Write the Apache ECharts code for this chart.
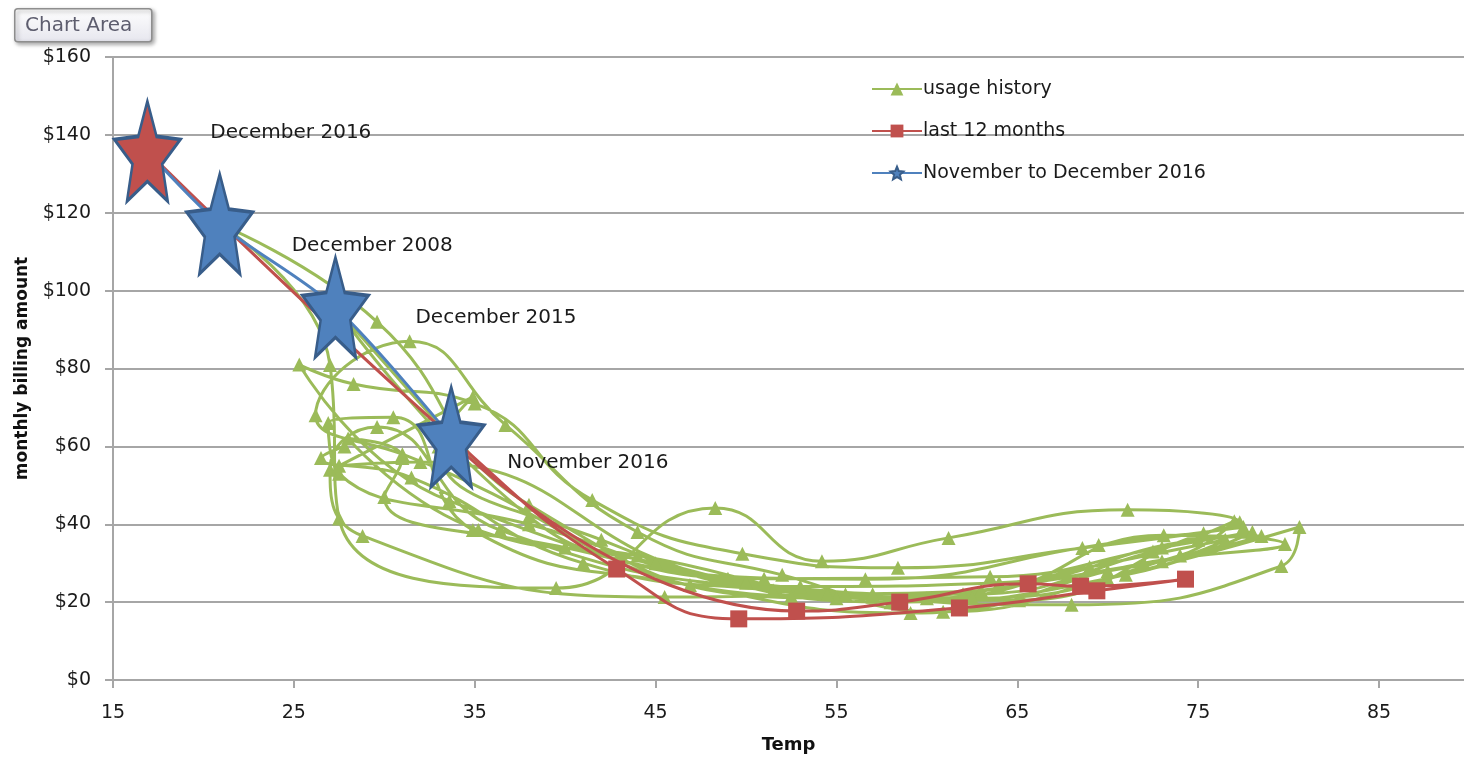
<!DOCTYPE html>
<html>
<head>
<meta charset="utf-8">
<title>monthly billing amount vs Temp</title>
<script src="https://cdn.jsdelivr.net/npm/echarts@6/dist/echarts.min.js"></script>
<style>
  html, body { margin: 0; padding: 0; background: #fff; }
  #chart { width: 1464px; height: 762px; }
</style>
</head>
<body>
<div id="chart"></div>
<script>
// usage history, Dec 2007 .. Jan 2016 (temp, billing)
const usageTemp = [
  27.8, 26.5, 31.5, 41, 51.5, 60, 69, 76.5, 73, 55, 38, 29.6,
  20.9, 27, 27.5, 39.5, 48.3, 54.2, 61.2, 71.1, 77.3, 69.5, 56.6, 33.6,
  25.3, 28.3, 35, 41.5, 49.8, 58.4, 68.6, 77.5, 75.3, 65.1, 52.5, 31,
  26.2, 31.4, 36.7, 44, 52, 60.9, 70, 80.6, 79.6, 68, 55.5, 36.4,
  29.6, 27, 28.8, 45.5, 54.5, 63, 73.1, 79.8, 72, 59.1, 46.9, 34.9,
  30.5, 26.9, 27.5, 38, 50, 62, 72.5, 77, 74, 62.5, 49, 32,
  27.5, 34.9, 33, 42, 53, 64, 75, 78.5, 70, 57, 44, 35.2,
  28, 31, 30, 40, 51, 63.5, 73, 78, 71, 58, 45, 38,
  27.3, 33.7
]
const usageCost = [
  60, 57, 52, 30, 23, 21, 29, 36, 30.5, 21, 45, 92,
  117, 80.9, 41.5, 23.6, 44.2, 30.5, 36.5, 43.7, 40.5, 34.7, 25.9, 46,
  81, 76, 71, 46.2, 32.4, 28.8, 33.9, 39.3, 37.7, 20.5, 21.5, 58,
  68, 87, 65.5, 38, 27, 17.5, 26, 39.3, 29.3, 19.3, 22, 38.5,
  65, 54, 37, 21.3, 22, 23, 37.2, 34.9, 30, 17.2, 24.4, 38.5,
  67.5, 66, 53, 40, 25, 22, 33, 40.8, 32, 21, 26, 56,
  55, 72.7, 60, 36, 24, 25, 36, 37, 28, 22, 32, 38.5,
  62, 57, 47, 34, 26, 26.5, 34, 38, 27, 20, 30, 42,
  95.7, 62
]

// last 12 months, Jan .. Dec 2016
const lastTemp = [33.8, 52.8, 58.5, 65.6, 68.5, 74.3, 69.4, 61.8, 49.6, 42.85, 33.7, 16.9]
const lastCost = [61, 17.7, 20.0, 24.7, 24.1, 25.9, 22.9, 18.5, 15.7, 28.5, 62.4, 135.8]

// November to December 2016 and the labelled months
const starTemp = [16.9, 20.9, 27.3, 33.7]
const starCost = [135.8, 117.1, 95.7, 62.4]
const starLabels = ['December 2016', 'December 2008', 'December 2015', 'November 2016']

const xTicks = [15, 25, 35, 45, 55, 65, 75, 85]

const green = '#9bbb59'
const red = '#c0504d'
const blue = '#4f81bd'
const font = 'DejaVu Sans'
const starPath = 'path://M100,0 L126.45,63.6 L195.1,69.1 L142.8,113.9 L158.8,180.9 L100,145 L41.2,180.9 L57.2,113.9 L4.9,69.1 L73.55,63.6 Z'
const labelOffsets = [[63, -18], [72, 22], [80, 10], [56, 26]]

const myChart = echarts.init(document.getElementById('chart'))

const usageData = usageTemp.map((t, i) => [t, usageCost[i]])
const lastData = lastTemp.map((t, i) => {
    const item = { value: [t, lastCost[i]] }
    // Dec 2016 shows as the red star of the blue series
    if (i === lastTemp.length - 1) item.symbol = 'none'
    return item
})
const starData = starTemp.map((t, i) => ({
    value: [t, starCost[i]],
    itemStyle: i === 0 ? { color: red, borderColor: '#385d8a', borderWidth: 3 } : undefined,
    label: { offset: labelOffsets[i] },
    name: starLabels[i]
}))

myChart.setOption({
    animation: false,
    textStyle: { fontFamily: font },
    grid: { left: 113, top: 57, right: 0, bottom: 82 },
    legend: {
        orient: 'vertical',
        left: 866,
        top: 73,
        itemWidth: 50,
        itemHeight: 16,
        itemGap: 20,
        textStyle: { fontSize: 19, color: '#1a1a1a', fontFamily: font, lineHeight: 22, padding: [0, 0, 0, -4] },
        data: ['usage history', 'last 12 months', 'November to December 2016']
    },
    graphic: [
        {
            type: 'rect',
            left: 14, top: 8,
            shape: { width: 137, height: 33, r: 3 },
            style: {
                fill: new echarts.graphic.LinearGradient(0, 0, 0, 1, [
                    { offset: 0, color: '#ffffff' },
                    { offset: 1, color: '#e6e6ee' }
                ]),
                stroke: '#8e8e8e',
                lineWidth: 1.5,
                shadowBlur: 4,
                shadowOffsetX: 2,
                shadowOffsetY: 2,
                shadowColor: 'rgba(0,0,0,0.35)'
            },
            z: 100
        },
        {
            type: 'text',
            left: 25, top: 16,
            style: { text: 'Chart Area', fontSize: 20, fill: '#5d5d6e', fontFamily: font },
            z: 101
        }
    ],
    xAxis: {
        type: 'value',
        min: 15,
        max: 89.7,
        interval: 10,
        name: 'Temp',
        nameLocation: 'middle',
        nameGap: 56,
        nameTextStyle: { fontSize: 18, fontWeight: 'bold', color: '#111', fontFamily: font },
        axisLine: { show: true, lineStyle: { color: '#a6a6a6', width: 2 } },
        axisTick: { show: true, length: 8, lineStyle: { color: '#a6a6a6', width: 2 } },
        axisLabel: {
            margin: 24,
            fontSize: 19,
            color: '#1a1a1a',
            showMaxLabel: false,
            formatter: v => (xTicks.indexOf(v) >= 0 ? String(v) : '')
        },
        splitLine: { show: false }
    },
    yAxis: {
        type: 'value',
        min: 0,
        max: 160,
        interval: 20,
        name: 'monthly billing amount',
        nameLocation: 'middle',
        nameRotate: 90,
        nameGap: 82,
        nameTextStyle: { fontSize: 17, fontWeight: 'bold', color: '#111', fontFamily: font },
        axisLine: { show: true, lineStyle: { color: '#a6a6a6', width: 2 } },
        axisTick: { show: true, inside: false, length: 8, lineStyle: { color: '#a6a6a6', width: 2 } },
        axisLabel: { margin: 22, fontSize: 19, color: '#1a1a1a', formatter: v => '$' + v },
        splitLine: { show: true, lineStyle: { color: '#a6a6a6', width: 2 } }
    },
    series: [
        {
            name: 'usage history',
            type: 'line',
            smooth: 0.5,
            data: usageData,
            symbol: 'triangle',
            symbolSize: 14,
            itemStyle: { color: green },
            lineStyle: { color: green, width: 3 },
            z: 2
        },
        {
            name: 'last 12 months',
            type: 'line',
            smooth: 0.5,
            data: lastData,
            symbol: 'rect',
            symbolSize: 17,
            itemStyle: { color: red },
            lineStyle: { color: red, width: 3 },
            z: 3
        },
        {
            name: 'November to December 2016',
            type: 'line',
            smooth: 0.3,
            data: starData,
            symbol: starPath,
            symbolSize: [66, 100],
            symbolKeepAspect: false,
            itemStyle: { color: blue, borderColor: '#385d8a', borderWidth: 3 },
            lineStyle: { color: blue, width: 3 },
            label: {
                show: true,
                position: 'inside',
                align: 'left',
                verticalAlign: 'middle',
                fontSize: 20,
                color: '#1a1a1a',
                fontFamily: font,
                formatter: p => p.name
            },
            z: 4
        }
    ]
})

window.addEventListener('resize', () => {
    myChart.resize()
})
</script>
</body>
</html>
